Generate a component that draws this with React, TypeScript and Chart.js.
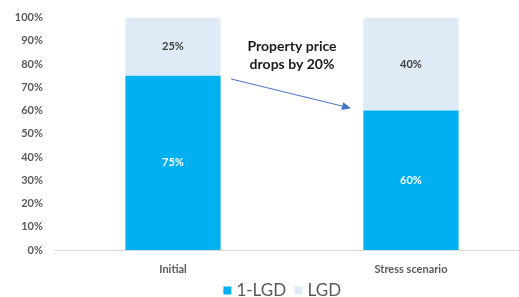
import React, { useEffect, useRef } from "react";
import { Chart, registerables } from "chart.js";

Chart.register(...registerables);

const categories = ["Initial", "Stress scenario"];
const oneMinusLgd = [75, 60];
const lgd = [25, 40];
const yTicks = [0, 10, 20, 30, 40, 50, 60, 70, 80, 90, 100];
const annotationLines = ["Property price", "drops by 20%"];

const FONT = "Lato, 'DejaVu Sans', sans-serif";

const labelPlugin = {
  id: "segLabels",
  afterDatasetsDraw(chart: any) {
    const ctx = chart.ctx;
    ctx.save();
    ctx.font = `bold 11px ${FONT}`;
    ctx.textAlign = "center";
    ctx.textBaseline = "middle";
    chart.data.datasets.forEach((ds: any, di: number) => {
      const meta = chart.getDatasetMeta(di);
      meta.data.forEach((bar: any, i: number) => {
        const top = Math.min(bar.y, bar.base);
        const bottom = Math.max(bar.y, bar.base);
        ctx.fillStyle = di === 0 ? "#ffffff" : "#404040";
        ctx.fillText(ds.data[i] + "%", bar.x, (top + bottom) / 2);
      });
    });
    ctx.restore();
  },
};

const annotationPlugin = {
  id: "annot",
  afterDraw(chart: any) {
    const ctx = chart.ctx;
    const x = chart.scales.x;
    const y = chart.scales.y;
    ctx.save();
    ctx.font = `bold 14px ${FONT}`;
    ctx.fillStyle = "#1a1a1a";
    ctx.textAlign = "center";
    ctx.textBaseline = "middle";
    const cx = x.getPixelForValue(0.5);
    ctx.fillText(annotationLines[0], cx, y.getPixelForValue(87.4));
    ctx.fillText(annotationLines[1], cx, y.getPixelForValue(80));
    const x1 = x.getPixelForValue(0.244);
    const y1 = y.getPixelForValue(73.6);
    const x2 = x.getPixelForValue(0.748);
    const y2 = y.getPixelForValue(61);
    ctx.strokeStyle = "#4472C4";
    ctx.fillStyle = "#4472C4";
    ctx.lineWidth = 1;
    const ang = Math.atan2(y2 - y1, x2 - x1);
    const hl = 9;
    const bx = x2 - hl * Math.cos(ang);
    const by = y2 - hl * Math.sin(ang);
    ctx.beginPath();
    ctx.moveTo(x1, y1);
    ctx.lineTo(bx, by);
    ctx.stroke();
    ctx.beginPath();
    ctx.moveTo(x2, y2);
    ctx.lineTo(bx + 4 * Math.sin(ang), by - 4 * Math.cos(ang));
    ctx.lineTo(bx - 4 * Math.sin(ang), by + 4 * Math.cos(ang));
    ctx.closePath();
    ctx.fill();
    ctx.restore();
  },
};

const legendShift = {
  id: "legendShift",
  afterLayout(chart: any) {
    const l = chart.legend;
    if (l) {
      l.left += 19;
      l.right += 19;
      l.top -= 6;
      l.bottom -= 6;
    }
  },
};

export default function App() {
  const ref = useRef<HTMLCanvasElement>(null);
  useEffect(() => {
    if (!ref.current) return;
    const chart = new Chart(ref.current, {
      type: "bar",
      data: {
        labels: categories,
        datasets: [
          {
            label: "1-LGD",
            data: oneMinusLgd,
            backgroundColor: "#00B0F0",
            categoryPercentage: 1,
            barPercentage: 0.4,
          },
          {
            label: "LGD",
            data: lgd,
            backgroundColor: "#DEEBF7",
            categoryPercentage: 1,
            barPercentage: 0.4,
          },
        ],
      },
      options: {
        responsive: false,
        animation: false,
        devicePixelRatio: 1,
        layout: { padding: { left: 0, right: 30, top: 12, bottom: -18 } },
        plugins: {
          tooltip: { enabled: false },
          legend: {
            position: "bottom",
            labels: {
              usePointStyle: true,
              pointStyle: "rect",
              boxWidth: 1,
              boxHeight: 8,
              padding: 12,
              color: "#595959",
              font: { family: FONT, size: 17 },
            },
          },
        },
        scales: {
          x: {
            stacked: true,
            grid: { display: false, drawTicks: false },
            border: { display: true, color: "#D9D9D9", width: 1 },
            ticks: {
              padding: 13,
              color: "#595959",
              font: { family: FONT, size: 11, weight: "bold" },
            },
            afterFit(scale: any) {
              scale.height = 26;
            },
          },
          y: {
            stacked: true,
            min: 0,
            max: 100,
            grid: { display: false, drawTicks: false },
            border: { display: false },
            afterBuildTicks(scale: any) {
              scale.ticks = yTicks.map((v) => ({ value: v }));
            },
            ticks: {
              padding: 11,
              color: "#595959",
              font: { family: FONT, size: 11, weight: "bold" },
              callback: (v: any) => v + "%",
            },
            afterFit(scale: any) {
              scale.width = 54;
            },
          },
        },
      },
      plugins: [labelPlugin, annotationPlugin, legendShift],
    });
    return () => chart.destroy();
  }, []);
  return (
    <div
      style={{
        position: "fixed",
        left: 0,
        top: 0,
        width: 519,
        height: 297,
        overflow: "hidden",
        background: "#fff",
      }}
    >
      <canvas ref={ref} width={560} height={297} style={{ width: 560, height: 297 }} />
    </div>
  );
}
